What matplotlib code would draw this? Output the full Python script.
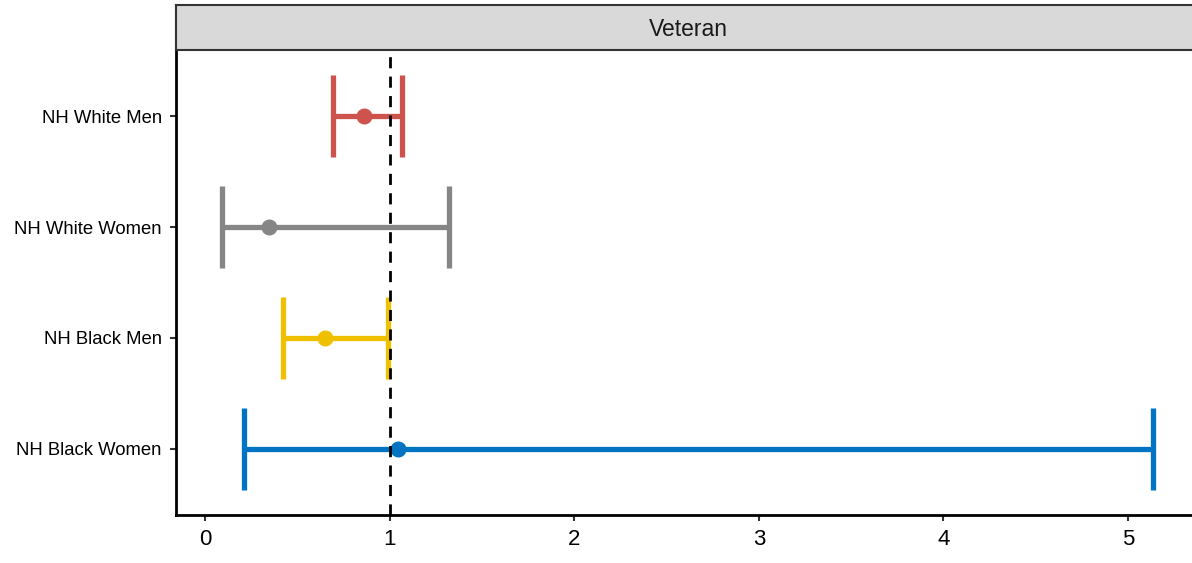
import matplotlib
matplotlib.use("Agg")
import matplotlib.pyplot as plt

plt.rcParams["font.family"] = ["Liberation Sans", "DejaVu Sans"]

# data (odds ratio with 95% CI)
groups = ["NH Black Women", "NH Black Men", "NH White Women", "NH White Men"]
estimate = [1.047, 0.648, 0.348, 0.861]
ci_low = [0.211, 0.424, 0.092, 0.692]
ci_high = [5.134, 0.990, 1.323, 1.067]
colors = ["#0073C2", "#EFC000", "#868686", "#CD534C"]
panel_title = "Veteran"
x_ticks = [0, 1, 2, 3, 4, 5]

W, H = 1192, 563
fig = plt.figure(figsize=(W / 100, H / 100), dpi=100)

# panel: left 176px, bottom 515px, top 50px, right runs past the image edge
left, right, top, bottom = 176, 1200, 50, 515
ax = fig.add_axes([left / W, 1 - bottom / H, (right - left) / W, (bottom - top) / H])
px_per_unit = 184.6
ax.set_xlim((left - 205) / px_per_unit, (right - 205) / px_per_unit)
ax.set_ylim(0.4, len(groups) + 0.6)

ypos = list(range(1, len(groups) + 1))
cap = 0.37
for y, est, lo, hi, c in zip(ypos, estimate, ci_low, ci_high, colors):
    ax.hlines(y, lo, hi, color=c, linewidth=3.8, zorder=2)
    ax.vlines([lo, hi], y - cap, y + cap, color=c, linewidth=3.8, zorder=2)
    ax.plot(est, y, "o", color=c, markersize=10.5, zorder=3)

ax.axvline(1, color="black", linestyle=(0, (4, 3)), linewidth=2, zorder=4)

ax.set_yticks(ypos)
ax.set_yticklabels(groups, fontsize=13.3)
ax.set_xticks(x_ticks)
ax.set_xticklabels([str(t) for t in x_ticks], fontsize=16)
ax.tick_params(axis="both", length=4.3, width=1.5, color="#333333", labelcolor="black")
ax.tick_params(axis="y", pad=6)
ax.tick_params(axis="x", pad=5.5)
for s in ["top", "right"]:
    ax.spines[s].set_visible(False)
for s in ["left", "bottom"]:
    ax.spines[s].set_linewidth(2)
    ax.spines[s].set_color("black")

# facet strip
strip = fig.add_axes([left / W, 1 - top / H, (right - left) / W, (top - 5) / H])
strip.set_facecolor("#D9D9D9")
strip.set_xticks([])
strip.set_yticks([])
for s in strip.spines.values():
    s.set_color("#333333")
    s.set_linewidth(1.5)
strip.text(0.5, 0.45, panel_title, ha="center", va="center",
           fontsize=16.5, color="#1A1A1A", transform=strip.transAxes)

fig.savefig("out.png", dpi=100)
